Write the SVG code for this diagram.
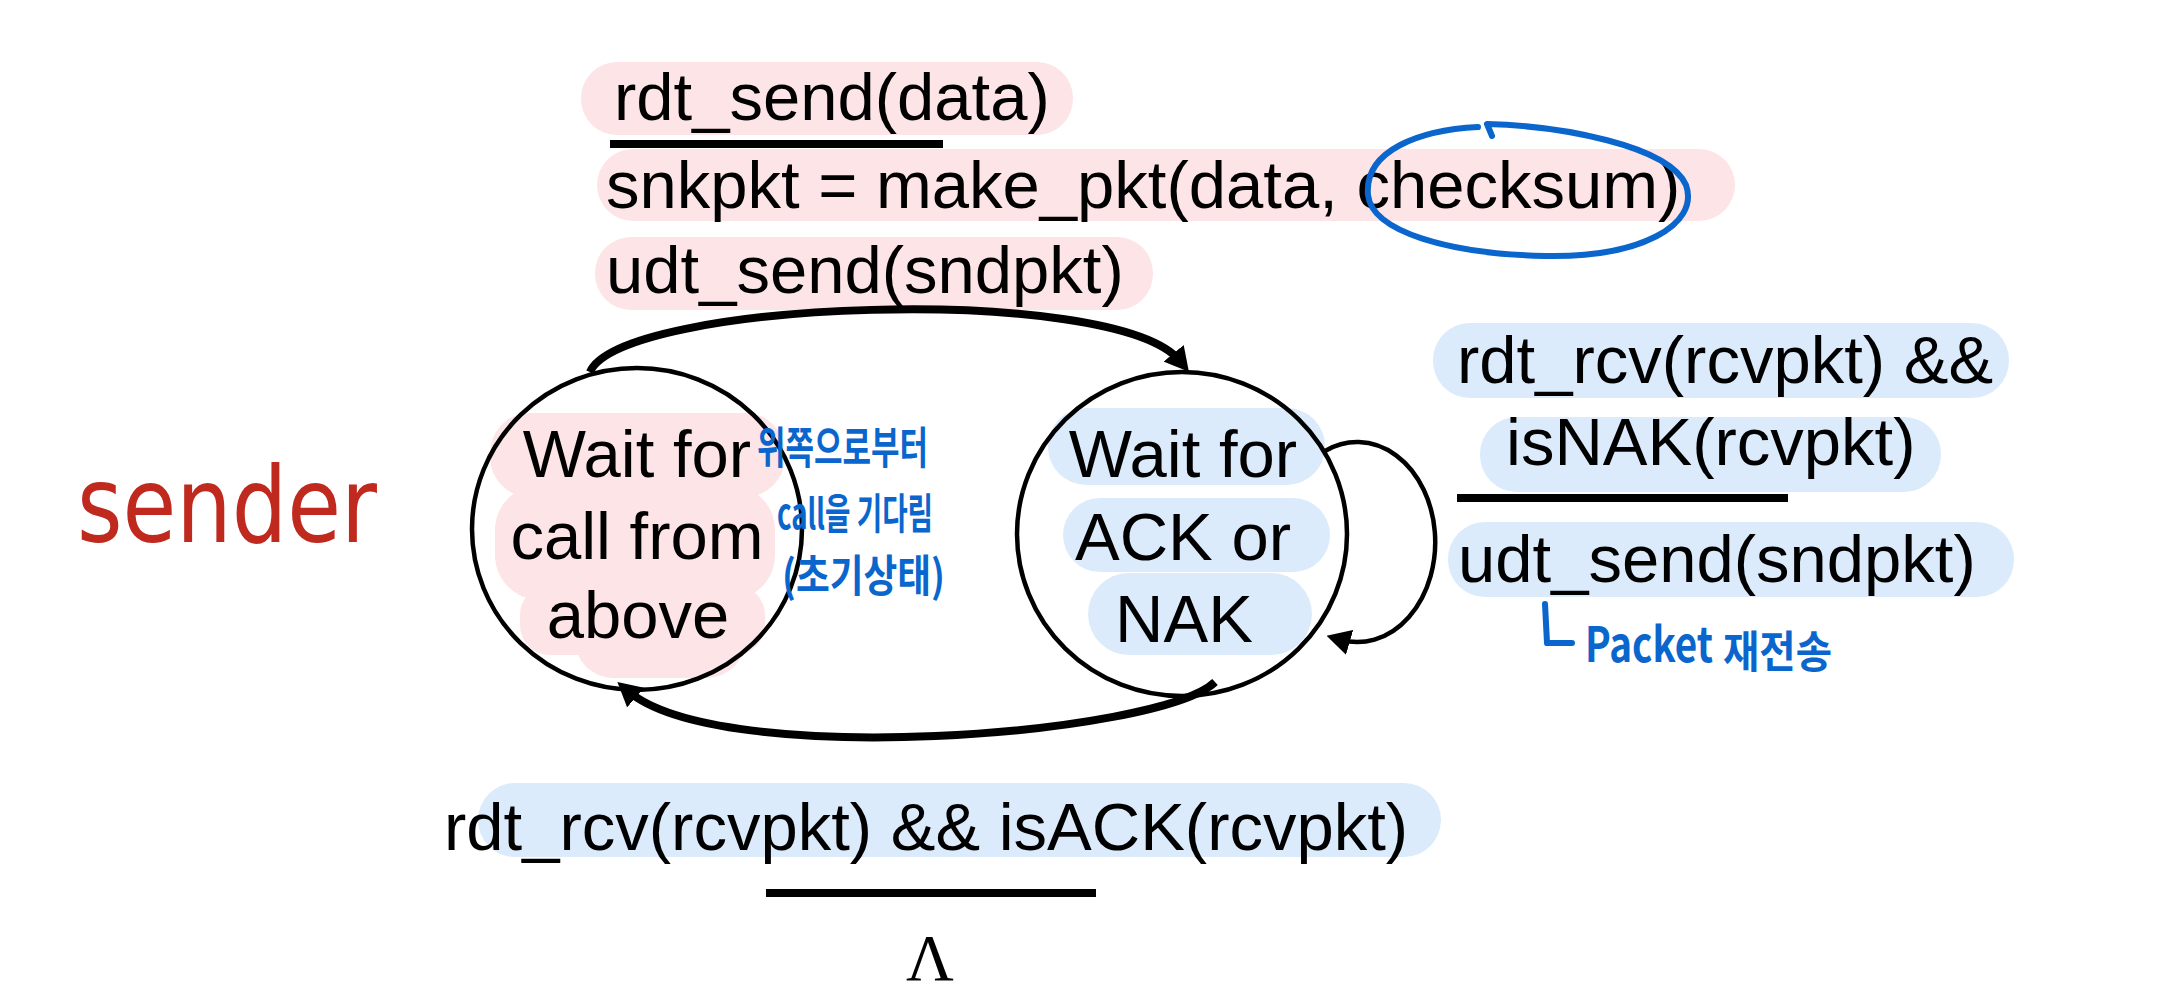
<svg xmlns="http://www.w3.org/2000/svg" width="2160" height="999" viewBox="0 0 2160 999">
<defs>
<style>
.t{font-family:"Liberation Sans",Arial,sans-serif;font-size:67px;fill:#000}
.pk{fill:#FDE4E6}
.bl{fill:#DBEBFC}
.node{fill:none;stroke:#000;stroke-width:4.5}
.bar{fill:#000}
.hw{font-family:"Noto Sans CJK KR","Noto Sans",sans-serif;font-weight:700;fill:#0A66CC}
.ink{fill:none;stroke:#0A66CC;stroke-width:6;stroke-linecap:round;stroke-linejoin:round}
.edge{fill:none;stroke:#000;stroke-linecap:butt}
</style>
<marker id="ah" viewBox="0 0 24 26" refX="10" refY="13" markerWidth="24" markerHeight="26" markerUnits="userSpaceOnUse" orient="auto"><path d="M0,0 L24,13 L0,26 z" fill="#000"/></marker>
</defs>
<rect width="2160" height="999" fill="#fff"/>

<g id="sender-label">
<text x="77" y="542" font-family="'DejaVu Sans',Verdana,sans-serif" font-size="106" fill="#C0291E" textLength="300" lengthAdjust="spacingAndGlyphs">sender</text>
</g>

<g id="send-transition-label">
<rect class="pk" x="581" y="62" width="492" height="73" rx="36"/>
<rect class="pk" x="597" y="149" width="1138" height="72" rx="36"/>
<rect class="pk" x="595" y="237" width="558" height="73" rx="36"/>
<text class="t" x="614" y="120">rdt_send(data)</text>
<rect class="bar" x="610" y="140" width="333" height="8"/>
<text class="t" x="606" y="208">snkpkt = make_pkt(data, checksum)</text>
<text class="t" x="606" y="293">udt_send(sndpkt)</text>
<path class="ink" d="M1492 136 L1487 124 C1560 126 1668 145 1686 185 C1700 225 1640 258 1545 256 C1450 254 1372 232 1368 195 C1364 150 1420 130 1478 127"/>
</g>

<g id="state-wait-call">
<g class="pk">
<rect x="490" y="413" width="295" height="84" rx="40"/>
<rect x="495" y="485" width="280" height="115" rx="45"/>
<rect x="520" y="585" width="245" height="70" rx="30"/>
<rect x="575" y="600" width="170" height="78" rx="38"/>
</g>
<ellipse class="node" cx="637" cy="529" rx="165" ry="161"/>
<text class="t" x="637" y="477" text-anchor="middle">Wait for</text>
<text class="t" x="637" y="559" text-anchor="middle">call from</text>
<text class="t" x="638" y="638" text-anchor="middle">above</text>
<text class="hw" x="757" y="464" font-size="44" textLength="171" lengthAdjust="spacingAndGlyphs">위쪽으로부터</text>
<text class="hw" x="777" y="529" font-size="42" textLength="156" lengthAdjust="spacingAndGlyphs">call을 기다림</text>
<text class="hw" x="782" y="592" font-size="44" textLength="163" lengthAdjust="spacingAndGlyphs">(초기상태)</text>
</g>

<g id="state-wait-ack">
<rect class="bl" x="1048" y="408" width="277" height="77" rx="38"/>
<rect class="bl" x="1063" y="498" width="267" height="74" rx="37"/>
<rect class="bl" x="1088" y="573" width="224" height="82" rx="41"/>
<ellipse class="node" cx="1182" cy="534" rx="165" ry="162"/>
<text class="t" x="1183" y="477" text-anchor="middle">Wait for</text>
<text class="t" x="1183" y="560" text-anchor="middle">ACK or</text>
<text class="t" x="1184" y="642" text-anchor="middle">NAK</text>
</g>

<g id="nak-transition-label">
<rect class="bl" x="1433" y="323" width="576" height="75" rx="37"/>
<rect class="bl" x="1480" y="417" width="461" height="75" rx="37"/>
<rect class="bl" x="1448" y="522" width="566" height="75" rx="37"/>
<text class="t" x="1457" y="383">rdt_rcv(rcvpkt) &amp;&amp;</text>
<text class="t" x="1506" y="465">isNAK(rcvpkt)</text>
<rect class="bar" x="1457" y="494" width="331" height="8"/>
<text class="t" x="1458" y="582">udt_send(sndpkt)</text>
<polyline class="ink" points="1545,604 1547,643 1572,643"/>
<text class="hw" x="1585" y="662" font-size="48" font-weight="400" textLength="128" lengthAdjust="spacingAndGlyphs">Packet</text>
<text class="hw" x="1723" y="668" font-size="44" textLength="109" lengthAdjust="spacingAndGlyphs">재전송</text>
</g>

<g id="ack-transition-label">
<rect class="bl" x="478" y="783" width="963" height="74" rx="37"/>
<text class="t" x="444" y="850">rdt_rcv(rcvpkt) &amp;&amp; isACK(rcvpkt)</text>
<rect class="bar" x="766" y="889" width="330" height="8"/>
<text x="930" y="980" text-anchor="middle" font-family="'Liberation Serif','Times New Roman',serif" font-size="66" fill="#000">Λ</text>
</g>

<g id="connectors">
<path class="edge" stroke-width="8" d="M590 372 C620 300 1115 282 1180 361" marker-end="url(#ah)"/>
<path class="edge" stroke-width="8" d="M1215 682 C1160 735 720 770 628 691" marker-end="url(#ah)"/>
<path class="edge" stroke-width="4.5" d="M1325 451 A78 100 0 1 1 1340 639.6" marker-end="url(#ah)"/>
</g>
</svg>
